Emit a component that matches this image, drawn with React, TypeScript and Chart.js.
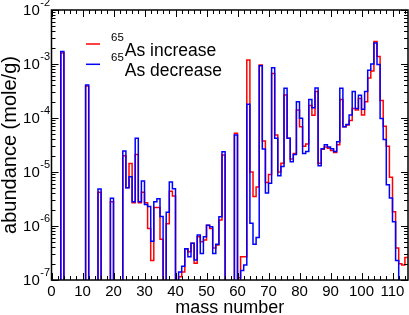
import React, { useEffect, useRef } from "react";
import { Chart, registerables } from "chart.js";

Chart.register(...registerables);

// Mass numbers (categories)
const massNumbers = [
  1, 2, 3, 4, 5, 6, 7, 8, 9, 10,
  11, 12, 13, 14, 15, 16, 17, 18, 19, 20,
  21, 22, 23, 24, 25, 26, 27, 28, 29, 30,
  31, 32, 33, 34, 35, 36, 37, 38, 39, 40,
  41, 42, 43, 44, 45, 46, 47, 48, 49, 50,
  51, 52, 53, 54, 55, 56, 57, 58, 59, 60,
  61, 62, 63, 64, 65, 66, 67, 68, 69, 70,
  71, 72, 73, 74, 75, 76, 77, 78, 79, 80,
  81, 82, 83, 84, 85, 86, 87, 88, 89, 90,
  91, 92, 93, 94, 95, 96, 97, 98, 99, 100,
  101, 102, 103, 104, 105, 106, 107, 108, 109, 110,
  111, 112, 113, 114, 115,
];

// 65As increase (red); 0 = below the plotted range
const asIncrease = [
  0, 0, 0, 1.6e-3, 0, 0, 0, 0, 0, 0,
  0, 3.9e-4, 0, 0, 0, 4.2e-6, 0, 0, 0, 2.8e-6,
  0, 0, 0, 2.0e-5, 5.1e-6, 1.44e-5, 2.7e-6, 2.1e-5, 2.7e-6, 4.2e-6,
  2.7e-6, 9e-7, 2.3e-7, 2.2e-6, 2.2e-6, 5.7e-7, 0, 1.1e-6, 4.4e-6, 3.6e-6,
  0, 1.15e-7, 1.4e-7, 3.8e-7, 3.35e-7, 4.8e-7, 2.05e-7, 6.3e-7, 5.1e-7, 5.5e-7,
  1.03e-6, 9.0e-7, 3.9e-7, 4.45e-7, 1.29e-6, 2.07e-5, 0, 0, 0, 5.2e-5,
  1.1e-7, 2.7e-7, 2.7e-7, 1.19e-3, 1.0e-5, 3.5e-6, 5.3e-6, 9.6e-4, 3.75e-5, 6.4e-6,
  9.0e-6, 6.7e-4, 4.85e-5, 1.0e-5, 1.45e-5, 2.67e-4, 4.2e-5, 1.74e-5, 2.2e-5, 1.41e-4,
  6.9e-5, 3.0e-5, 3.3e-5, 1.7e-4, 1.12e-4, 3.1e-4, 1.45e-5, 2.65e-5, 2.9e-5, 2.75e-5,
  2.5e-5, 2.3e-5, 3.2e-5, 2.2e-4, 6.9e-5, 7.4e-5, 9.0e-5, 1.5e-4, 1.4e-4, 2.3e-4,
  1.14e-4, 2.0e-4, 5.5e-4, 7.4e-4, 2.6e-3, 1.37e-3, 2.1e-4, 7.0e-5, 3.0e-5, 8.0e-6,
  1.84e-6, 3.9e-7, 2.0e-7, 1.9e-7, 2.6e-7,
];

// 65As decrease (blue)
const asDecrease = [
  0, 0, 0, 1.7e-3, 0, 0, 0, 0, 0, 0,
  0, 4.1e-4, 0, 0, 0, 4.85e-6, 0, 0, 0, 3.25e-6,
  0, 0, 0, 2.45e-5, 5.1e-6, 8.2e-6, 2.8e-6, 4.2e-5, 2.8e-6, 6.8e-6,
  2.5e-6, 2.3e-6, 5.2e-7, 2.8e-6, 3.2e-6, 1.5e-6, 0, 1.8e-6, 6.5e-6, 4.9e-6,
  0, 1.4e-7, 1.8e-7, 3.8e-7, 2.7e-7, 4.8e-7, 2.35e-7, 6.8e-7, 3.1e-7, 6.3e-7,
  1.03e-6, 9.7e-7, 3.1e-7, 4.6e-7, 1.49e-6, 2.38e-5, 0, 0, 0, 4.85e-5,
  0, 1.5e-7, 1.9e-7, 1.79e-4, 1.12e-6, 4.6e-7, 6.1e-7, 9.3e-4, 2.67e-5, 4.1e-6,
  6.2e-6, 8.55e-4, 4.2e-5, 8.55e-6, 1.26e-5, 3.54e-4, 4.2e-5, 1.55e-5, 2.12e-5, 2.0e-4,
  9.9e-5, 2.2e-5, 2.4e-5, 2.2e-4, 1.55e-4, 3.6e-4, 1.3e-5, 2.7e-5, 3.2e-5, 2.9e-5,
  2.7e-5, 2.4e-5, 3.65e-5, 3.55e-4, 6.9e-5, 7.6e-5, 1.14e-4, 3.1e-4, 1.5e-4, 2.65e-4,
  1.45e-4, 3.1e-4, 7.7e-4, 1.0e-3, 2.45e-3, 9.8e-4, 9.8e-5, 4.0e-5, 5.8e-6, 3.3e-6,
  1.2e-6, 2.3e-7, 0, 0, 0,
];

const xTickLabels = [0, 10, 20, 30, 40, 50, 60, 70, 80, 90, 100, 110];
const yTickExponents = [-7, -6, -5, -4, -3, -2];
const seriesLabels = ["As increase", "As decrease"];
const seriesSup = "65";
const xTitle = "mass number";
const yTitle = "abundance (mole/g)";

const X_MIN = 0;
const X_MAX = 115;
const Y_MIN = 1e-7;
const Y_MAX = 1e-2;
const FLOOR = 1e-12;
const FONT = '"Liberation Sans", Arial, Helvetica, sans-serif';
const RED = "#ff0000";
const BLUE = "#0000ff";

// histogram bins span [A-1, A]; points at x = A with 'after' stepping
function buildSteps(values: number[]) {
  const pts = [{ x: X_MIN, y: values[0] > 0 ? values[0] : FLOOR }];
  massNumbers.forEach((a, i) => {
    const v = values[i];
    pts.push({ x: a, y: v > 0 ? v : FLOOR });
  });
  return pts;
}

const framePlugin = {
  id: "framePlugin",
  afterDatasetsDraw(chart: any) {
    const ctx = chart.ctx;
    const { left, right, top, bottom } = chart.chartArea;
    const xs = chart.scales.x;
    const ys = chart.scales.y;
    ctx.save();

    // ticks
    ctx.strokeStyle = "#000";
    ctx.lineWidth = 1;
    ctx.beginPath();
    for (let v = X_MIN; v <= X_MAX; v += 2) {
      const px = Math.round(xs.getPixelForValue(v)) + 0.5;
      const len = v % 10 === 0 ? 7 : 4;
      ctx.moveTo(px, bottom);
      ctx.lineTo(px, bottom - len);
      ctx.moveTo(px, top);
      ctx.lineTo(px, top + len);
    }
    for (let e = -7; e <= -2; e++) {
      for (let m = 1; m <= 9; m++) {
        const v = m * Math.pow(10, e);
        if (v > Y_MAX * 1.0001) break;
        const py = Math.round(ys.getPixelForValue(v)) + 0.5;
        const len = m === 1 ? 7 : 4;
        ctx.moveTo(left, py);
        ctx.lineTo(left + len, py);
        ctx.moveTo(right, py);
        ctx.lineTo(right - len, py);
      }
    }
    ctx.stroke();

    // frame
    ctx.lineWidth = 1.5;
    ctx.strokeRect(left, top, right - left, bottom - top);

    ctx.fillStyle = "#000";
    // x tick labels
    ctx.font = `15px ${FONT}`;
    ctx.textAlign = "center";
    ctx.textBaseline = "alphabetic";
    xTickLabels.forEach((v) => {
      ctx.fillText(String(v), xs.getPixelForValue(v), bottom + 16);
    });

    // y tick labels 10^e
    yTickExponents.forEach((e) => {
      const py = ys.getPixelForValue(Math.pow(10, e));
      const sup = String(e);
      ctx.font = `11px ${FONT}`;
      const sw = ctx.measureText(sup).width;
      const supLeft = left - 1.5 - sw;
      ctx.textAlign = "left";
      ctx.fillText(sup, supLeft, py - 4);
      ctx.font = `15px ${FONT}`;
      ctx.textAlign = "right";
      ctx.fillText("10", supLeft - 0.5, py + 5.3);
    });

    // axis titles
    ctx.font = `18px ${FONT}`;
    ctx.textAlign = "center";
    ctx.fillText(xTitle, (left + right) / 2, 313);
    ctx.save();
    ctx.font = `20px ${FONT}`;
    ctx.translate(16, (top + bottom) / 2);
    ctx.rotate(-Math.PI / 2);
    ctx.fillText(yTitle, 0, 0);
    ctx.restore();

    // legend
    const colors = [RED, BLUE];
    seriesLabels.forEach((lab, i) => {
      const ly = 44 + i * 20.3;
      ctx.strokeStyle = colors[i];
      ctx.lineWidth = 1.5;
      ctx.beginPath();
      ctx.moveTo(86, ly);
      ctx.lineTo(100, ly);
      ctx.stroke();
      ctx.fillStyle = "#000";
      ctx.textAlign = "left";
      ctx.font = `11.5px ${FONT}`;
      ctx.fillText(seriesSup, 111, ly - 3.5);
      const w = ctx.measureText(seriesSup).width;
      ctx.font = `17.5px ${FONT}`;
      ctx.fillText(lab, 111 + w + 1, ly + 11.5);
    });

    ctx.restore();
  },
};

export default function App() {
  const canvasRef = useRef<HTMLCanvasElement | null>(null);

  useEffect(() => {
    document.body.style.margin = "0";
    const canvas = canvasRef.current;
    if (!canvas) return;
    const chart = new Chart(canvas, {
      type: "line",
      data: {
        datasets: [
          {
            label: seriesSup + seriesLabels[0],
            data: buildSteps(asIncrease),
            borderColor: RED,
            borderWidth: 1.5,
            stepped: "after",
            pointRadius: 0,
            fill: false,
            order: 2,
          },
          {
            label: seriesSup + seriesLabels[1],
            data: buildSteps(asDecrease),
            borderColor: BLUE,
            borderWidth: 1.5,
            stepped: "after",
            pointRadius: 0,
            fill: false,
            order: 1,
          },
        ],
      },
      options: {
        responsive: false,
        animation: false,
        devicePixelRatio: 1,
        events: [],
        layout: { padding: { left: 51.5, right: 1, top: 10, bottom: 35 } },
        plugins: {
          legend: { display: false },
          tooltip: { enabled: false },
          title: { display: false },
        },
        scales: {
          x: { type: "linear", min: X_MIN, max: X_MAX, display: false },
          y: { type: "logarithmic", min: Y_MIN, max: Y_MAX, display: false },
        },
      },
      plugins: [framePlugin],
    });
    return () => chart.destroy();
  }, []);

  return (
    <div style={{ position: "relative", width: 409, height: 315, background: "#fff" }}>
      <canvas ref={canvasRef} width={409} height={315} style={{ display: "block" }} />
    </div>
  );
}
